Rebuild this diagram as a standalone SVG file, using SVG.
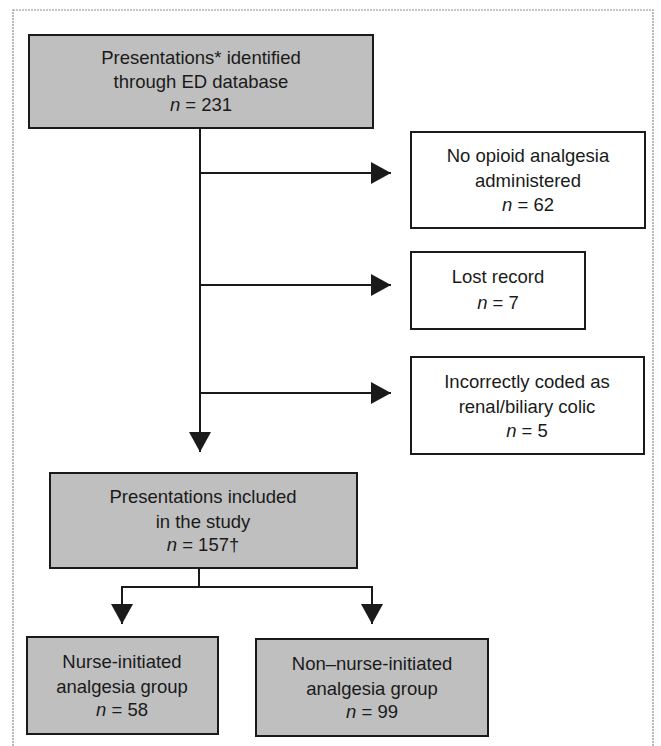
<svg xmlns="http://www.w3.org/2000/svg" width="661" height="746" viewBox="0 0 661 746">
<style>
.frame{fill:none;stroke:#8a8a8a;stroke-width:1.2;stroke-dasharray:2 1}
.box{stroke:#1a1a1a;stroke-width:2}
.grey{fill:#bfbfbf}
.white{fill:#ffffff}
text{font-family:"Liberation Sans",Arial,sans-serif;font-size:18.5px;fill:#1a1a1a;text-anchor:middle}
.it{font-style:italic}
.conn{stroke:#1a1a1a;stroke-width:2;fill:none}
</style>
<defs>
<marker id="ah" markerWidth="20" markerHeight="22" refX="20" refY="11" orient="auto" markerUnits="userSpaceOnUse">
<path d="M0,0 L20,11 L0,22 Z" fill="#1a1a1a"/>
</marker>
</defs>
<rect width="661" height="746" fill="#ffffff"/>
<rect class="frame" x="13" y="10" width="640" height="745"/>
<g id="connectors">
<line class="conn" x1="200" y1="128" x2="200" y2="452" marker-end="url(#ah)"/>
<line class="conn" x1="200" y1="173" x2="391" y2="173" marker-end="url(#ah)"/>
<line class="conn" x1="200" y1="285" x2="391" y2="285" marker-end="url(#ah)"/>
<line class="conn" x1="200" y1="393" x2="391" y2="393" marker-end="url(#ah)"/>
<polyline class="conn" points="199,568 199,587 122,587"/>
<line class="conn" x1="122" y1="586" x2="122" y2="624" marker-end="url(#ah)"/>
<polyline class="conn" points="199,587 372,587"/>
<line class="conn" x1="372" y1="586" x2="372" y2="624" marker-end="url(#ah)"/>
</g>
<g id="n_identified">
<rect class="box grey" x="29" y="35" width="344" height="93"/>
<text x="201" y="64">Presentations* identified</text>
<text x="201" y="88">through ED database</text>
<text x="201" y="111"><tspan class="it">n</tspan> = 231</text>
</g>
<g id="n_noopioid">
<rect class="box white" x="411" y="132" width="234" height="96"/>
<text x="528" y="162">No opioid analgesia</text>
<text x="528" y="187">administered</text>
<text x="528" y="211"><tspan class="it">n</tspan> = 62</text>
</g>
<g id="n_lost">
<rect class="box white" x="411" y="252" width="174" height="77"/>
<text x="498" y="283">Lost record</text>
<text x="498" y="309"><tspan class="it">n</tspan> = 7</text>
</g>
<g id="n_incorrect">
<rect class="box white" x="411" y="357" width="233" height="97"/>
<text x="527" y="388">Incorrectly coded as</text>
<text x="527" y="413">renal/biliary colic</text>
<text x="527" y="437"><tspan class="it">n</tspan> = 5</text>
</g>
<g id="n_included">
<rect class="box grey" x="50" y="473" width="307" height="95"/>
<text x="203" y="503">Presentations included</text>
<text x="203" y="528">in the study</text>
<text x="203" y="551"><tspan class="it">n</tspan> = 157†</text>
</g>
<g id="n_nurse">
<rect class="box grey" x="27" y="637" width="191" height="97"/>
<text x="122" y="668">Nurse-initiated</text>
<text x="122" y="693">analgesia group</text>
<text x="122" y="716"><tspan class="it">n</tspan> = 58</text>
</g>
<g id="n_nonnurse">
<rect class="box grey" x="256" y="639" width="232" height="97"/>
<text x="372" y="670">Non–nurse-initiated</text>
<text x="372" y="695">analgesia group</text>
<text x="372" y="718"><tspan class="it">n</tspan> = 99</text>
</g>
</svg>
